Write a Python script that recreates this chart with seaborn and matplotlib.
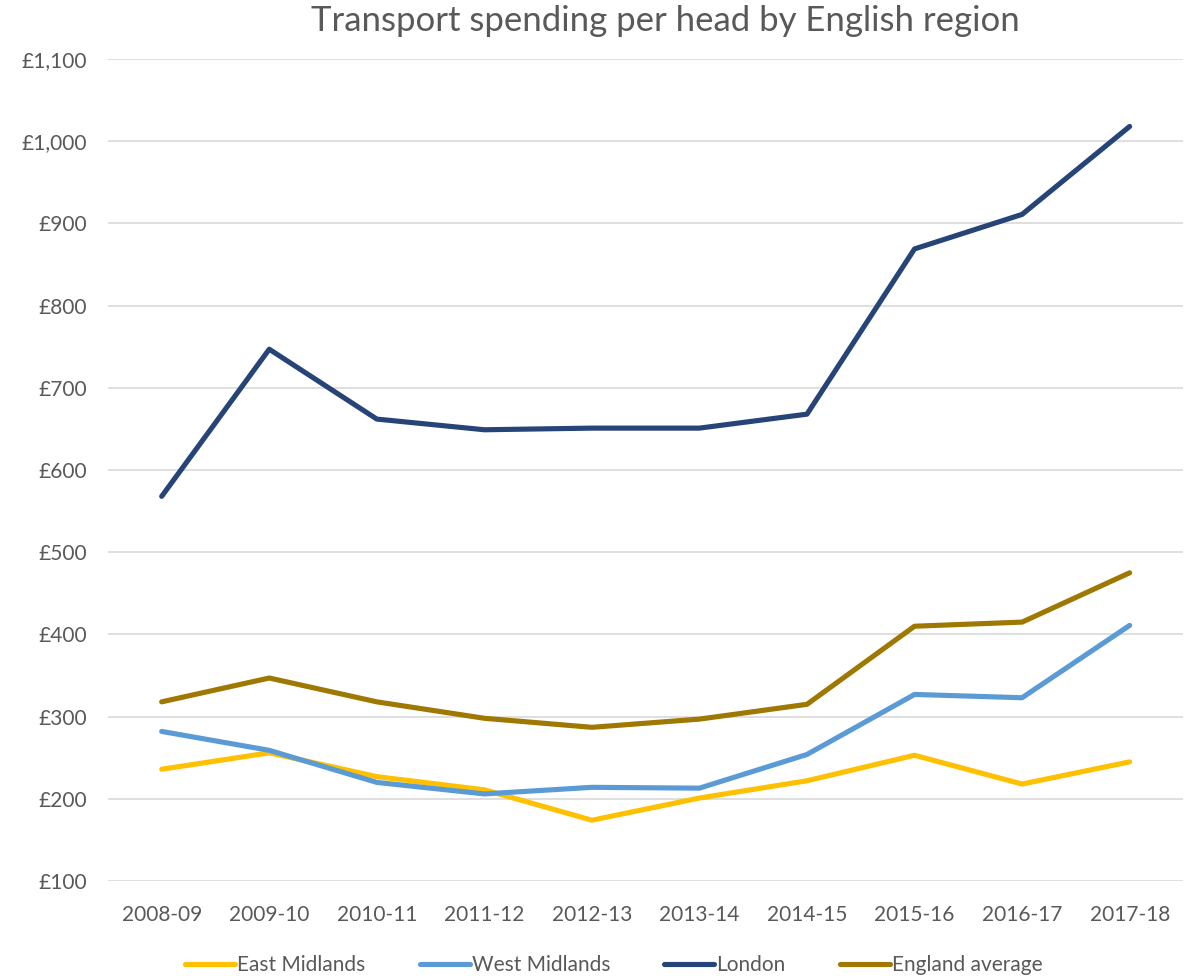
import matplotlib
matplotlib.use("Agg")
import matplotlib.pyplot as plt
import seaborn as sns
import pandas as pd
from matplotlib.ticker import FuncFormatter
from matplotlib.lines import Line2D

years = ["2008-09", "2009-10", "2010-11", "2011-12", "2012-13",
         "2013-14", "2014-15", "2015-16", "2016-17", "2017-18"]
east_midlands = [236, 256, 227, 211, 174, 201, 222, 253, 218, 245]
west_midlands = [282, 259, 220, 206, 214, 213, 254, 327, 323, 411]
london = [568, 747, 662, 649, 651, 651, 668, 869, 911, 1018]
england_average = [318, 347, 318, 298, 287, 297, 315, 410, 415, 475]

series_names = ["East Midlands", "West Midlands", "London", "England average"]
series_values = [east_midlands, west_midlands, london, england_average]
colors = ["#FFC000", "#5B9BD5", "#264478", "#9E7800"]

rows = []
for name, vals in zip(series_names, series_values):
    for i, (y, v) in enumerate(zip(years, vals)):
        rows.append({"year": y, "idx": i, "region": name, "value": v})
df = pd.DataFrame(rows)

sns.set_theme(style="white")
plt.rcParams["font.family"] = ["Lato", "DejaVu Sans"]

fig = plt.figure(figsize=(11.99, 9.76), dpi=100)
ax = fig.add_axes([0.090, 0.0973, 0.897, 0.8422])

sns.lineplot(data=df, x="idx", y="value", hue="region", hue_order=series_names,
             palette=colors, linewidth=3.7, ax=ax, legend=False,
             solid_capstyle="round", solid_joinstyle="round", sort=False)

ax.set_xlim(-0.5, len(years) - 0.5)
ax.set_ylim(100, 1100)
ax.set_yticks(range(100, 1101, 100))
ax.yaxis.set_major_formatter(FuncFormatter(lambda v, p: "£{:,.0f}".format(v)))
ax.set_xticks(range(len(years)))
ax.set_xticklabels(years)
ax.grid(axis="y", color="#D9D9D9", linewidth=1.2)
ax.set_axisbelow(True)
for s in ax.spines.values():
    s.set_visible(False)
ax.tick_params(axis="both", length=0, labelsize=15, labelcolor="#595959")
ax.tick_params(axis="y", pad=15)
ax.tick_params(axis="x", pad=17)
ax.set_xlabel("")
ax.set_ylabel("")

fig.text(0.555, 0.978, "Transport spending per head by English region",
         ha="center", va="center", fontsize=25, color="#595959")

handles = [Line2D([0], [0], color=c, linewidth=3.7, solid_capstyle="round") for c in colors]
fig.legend(handles, series_names, loc="center", bbox_to_anchor=(0.512, 0.011),
           ncol=4, frameon=False, fontsize=15, labelcolor="#595959",
           handlelength=2.4, handletextpad=0.1, columnspacing=2.6)

fig.savefig("out.png", dpi=100)
